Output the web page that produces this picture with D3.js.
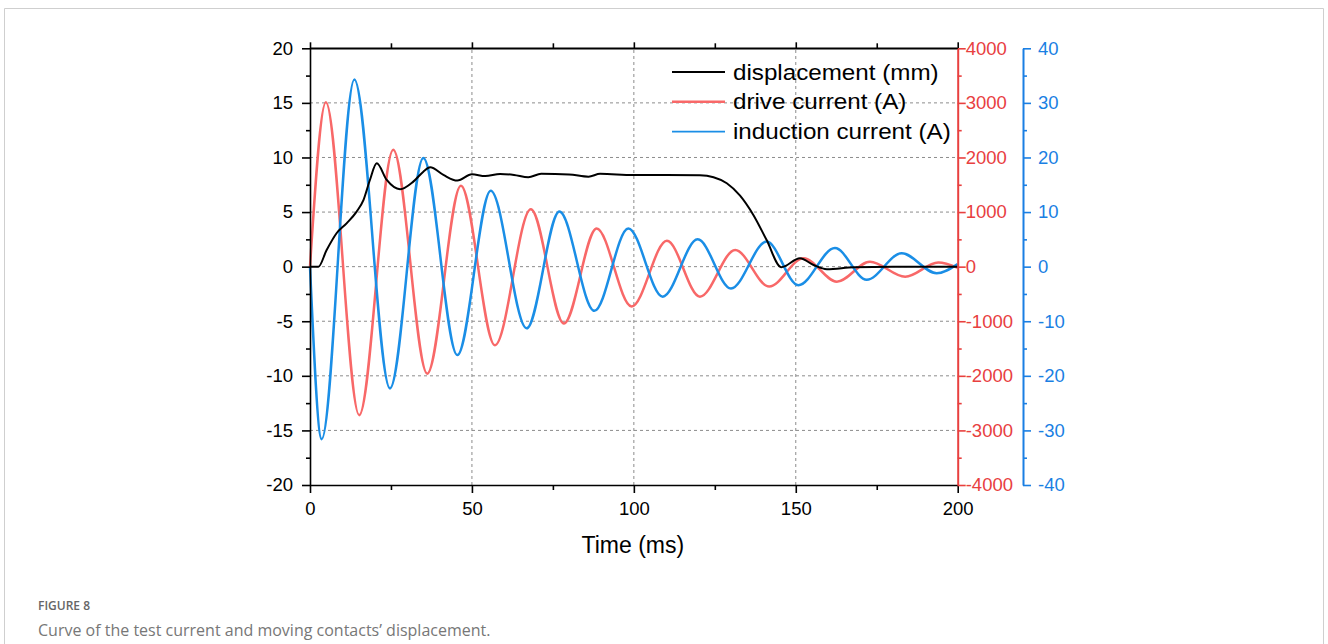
<!DOCTYPE html>
<html>
<head>
<meta charset="utf-8">
<script src="https://cdn.jsdelivr.net/npm/d3@7"></script>
<style>
  html, body { margin: 0; padding: 0; background: #fff; }
  svg { display: block; }
</style>
</head>
<body>
<svg id="chart" width="1328" height="644"></svg>
<script>
// ---------- data ----------
const timeTicks = [0, 50, 100, 150, 200];
const leftTicks = [-20, -15, -10, -5, 0, 5, 10, 15, 20];
const redTicks = [-4000, -3000, -2000, -1000, 0, 1000, 2000, 3000, 4000];
const blueTicks = [-40, -30, -20, -10, 0, 10, 20, 30, 40];

// displacement (mm)
const dispT = [0, 2.6, 5.1, 8.2, 11.3, 14.4, 16.5, 18.5, 20.6, 23.7, 27.8, 31.9, 35, 37.1, 41.2, 45.5, 50, 54.1, 58.7, 63, 67.4, 71.4, 80, 86, 89.6, 99.8, 110, 120.4, 124.6, 128.7, 132.8, 136.9, 141, 145.5, 151.3, 155.5, 159.6, 168, 180, 200];
const dispV = [0, 0, 1.5, 3.06, 3.97, 5.04, 6.1, 7.94, 9.47, 7.94, 7.09, 7.79, 8.7, 9.1, 8.4, 7.88, 8.46, 8.3, 8.49, 8.4, 8.19, 8.5, 8.45, 8.24, 8.5, 8.4, 8.4, 8.37, 8.19, 7.64, 6.5, 4.73, 2.44, -0.05, 0.77, 0.15, -0.24, -0.05, 0, 0];

// drive current (A)
const driveT = [0, 4.9, 15.2, 25.7, 36.2, 46.6, 57.1, 68.2, 78.4, 88.5, 99.3, 110.2, 120.4, 131.3, 141.8, 152.4, 162.7, 172.9, 183.8, 194, 200];
const driveV = [0, 3010, -2720, 2140, -1960, 1480, -1440, 1050, -1040, 700, -730, 475, -550, 305, -365, 155, -275, 90, -185, 75, -20];

// induction current (A)
const indT = [0, 3.6, 13.7, 24.7, 35.0, 45.5, 55.8, 66.9, 77.0, 87.8, 98.3, 108.9, 119.7, 130.0, 141.0, 150.8, 162.1, 171.9, 182.7, 193.5, 200];
const indV = [0, -31.6, 34.3, -22.3, 19.9, -16.2, 13.9, -11.3, 10.1, -8.1, 7.0, -5.5, 5.0, -4.0, 4.6, -3.4, 3.4, -2.4, 2.45, -1.2, 0.5];

const legendLabels = ["displacement (mm)", "drive current (A)", "induction current (A)"];

// ---------- layout ----------
const svg = d3.select("#chart");
const X0 = 310, X1 = 957.7, Y0 = 485, Y1 = 48.3;
const BLUE_X = 1023;
const black = "#000", redLine = "#f86868", redAxis = "#e8403f", blueLine = "#1a8ee6", blueAxis = "#1a7fe3";
const FONT = "'Liberation Sans', Arial, sans-serif";
const fmt = d => String(d);

const x = d3.scaleLinear().domain([0, 200]).range([X0, X1]);
const yL = d3.scaleLinear().domain([-20, 20]).range([Y0, Y1]);
const yR = d3.scaleLinear().domain([-4000, 4000]).range([Y0, Y1]);
const yB = d3.scaleLinear().domain([-40, 40]).range([Y0, Y1]);

// frame
svg.append("path").attr("d", `M4.5,644 V8.5 H1323.5 V644`).attr("fill", "none").attr("stroke", "#cfcfcf").attr("stroke-width", 1);

// gridlines
const grid = svg.append("g").attr("stroke", "#8c8c8c").attr("stroke-width", 1).attr("stroke-dasharray", "3,3");
[-15, -10, -5, 0, 5, 10, 15].forEach(v => {
  grid.append("line").attr("x1", X0).attr("x2", X1).attr("y1", yL(v)).attr("y2", yL(v));
});
[50, 100, 150].forEach(t => {
  grid.append("line").attr("x1", x(t)).attr("x2", x(t)).attr("y1", Y0).attr("y2", Y1);
});

// series
const lineGen = (xs, ys, yScale) => d3.line().curve(d3.curveMonotoneX)
  .x((d, i) => x(xs[i])).y((d, i) => yScale(ys[i]))(xs);

svg.append("path").attr("d", lineGen(driveT, driveV, yR)).attr("fill", "none").attr("stroke", redLine).attr("stroke-width", 2.5);
svg.append("path").attr("d", lineGen(indT, indV, yB)).attr("fill", "none").attr("stroke", blueLine).attr("stroke-width", 2.5);
svg.append("path").attr("d", lineGen(dispT, dispV, yL)).attr("fill", "none").attr("stroke", black).attr("stroke-width", 2);

// axes helpers
function styleAxis(g, color, fs) {
  g.selectAll(".domain").attr("stroke", color).attr("stroke-width", 1.6);
  g.selectAll(".tick line").attr("stroke", color).attr("stroke-width", 1.6);
  g.selectAll(".tick text").attr("fill", color).style("font-family", FONT).style("font-size", fs + "px");
}
const range = (a, b, s) => d3.range(a, b + s / 2, s);

// left axis
const gL = svg.append("g").attr("transform", `translate(${X0},0)`);
gL.append("g").call(d3.axisLeft(yL).tickValues(range(-17.5, 17.5, 5)).tickSize(4).tickFormat("")).call(g => { g.select(".domain").remove(); g.selectAll("line").attr("stroke", "#000").attr("stroke-width", 1.6); });
const gLm = gL.append("g").call(d3.axisLeft(yL).tickValues(leftTicks).tickSize(8).tickSizeOuter(0).tickPadding(9).tickFormat(fmt));
styleAxis(gLm, "#000", 18.5);

// bottom axis
const gB = svg.append("g").attr("transform", `translate(0,${Y0})`);
gB.append("g").call(d3.axisBottom(x).tickValues([25, 75, 125, 175]).tickSize(5).tickFormat("")).call(g => { g.select(".domain").remove(); g.selectAll("line").attr("stroke", "#000").attr("stroke-width", 1.6); });
const gBm = gB.append("g").call(d3.axisBottom(x).tickValues(timeTicks).tickSize(8).tickSizeOuter(0).tickPadding(9).tickFormat(fmt));
styleAxis(gBm, "#000", 18.5);

// top axis (no labels)
const gT = svg.append("g").attr("transform", `translate(0,${Y1})`);
gT.append("g").call(d3.axisTop(x).tickValues([25, 75, 125, 175]).tickSize(5).tickFormat("")).call(g => { g.select(".domain").remove(); g.selectAll("line").attr("stroke", "#000").attr("stroke-width", 1.6); });
const gTm = gT.append("g").call(d3.axisTop(x).tickValues(timeTicks).tickSize(6).tickSizeOuter(0).tickFormat(""));
styleAxis(gTm, "#000", 18);

// red right axis
const gR = svg.append("g").attr("transform", `translate(${X1},0)`);
gR.append("g").call(d3.axisRight(yR).tickValues(range(-3500, 3500, 1000)).tickSize(4).tickFormat("")).call(g => { g.select(".domain").remove(); g.selectAll("line").attr("stroke", redAxis).attr("stroke-width", 1.6); });
const gRm = gR.append("g").call(d3.axisRight(yR).tickValues(redTicks).tickSize(8).tickSizeOuter(0).tickPadding(0).tickFormat(fmt));
styleAxis(gRm, redAxis, 18.5);
gRm.select(".domain").attr("stroke-width", 2);

// blue right axis
const gBl = svg.append("g").attr("transform", `translate(${BLUE_X},0)`);
gBl.append("g").call(d3.axisRight(yB).tickValues(range(-35, 35, 10)).tickSize(4).tickFormat("")).call(g => { g.select(".domain").remove(); g.selectAll("line").attr("stroke", blueAxis).attr("stroke-width", 1.6); });
const gBlm = gBl.append("g").call(d3.axisRight(yB).tickValues(blueTicks).tickSize(8).tickSizeOuter(0).tickPadding(7).tickFormat(fmt));
styleAxis(gBlm, blueAxis, 18.5);
gBlm.select(".domain").attr("stroke-width", 2);

// top border line over plot
svg.append("line").attr("x1", X0).attr("x2", X1).attr("y1", Y1).attr("y2", Y1).attr("stroke", "#000").attr("stroke-width", 1.6);

// x-axis title
svg.append("text").attr("x", (X0 + X1) / 2 - 1).attr("y", 553).attr("text-anchor", "middle")
  .style("font-family", FONT).style("font-size", "23px").attr("fill", "#000").text("Time (ms)");

// legend
const legColors = [black, redLine, blueLine];
const legWidths = [2, 2.4, 1.8];
legendLabels.forEach((lab, i) => {
  const yy = 72 + i * 29.8;
  svg.append("line").attr("x1", 672).attr("x2", 725).attr("y1", yy).attr("y2", yy)
    .attr("stroke", legColors[i]).attr("stroke-width", legWidths[i]);
  svg.append("text").attr("transform", `translate(733,${yy + 7.5}) scale(1.1,1)`)
    .style("font-family", FONT).style("font-size", "22px")
    .attr("fill", "#000").text(lab);
});

// caption
svg.append("text").attr("x", 38).attr("y", 610).style("font-family", "'Open Sans', 'Noto Sans', sans-serif")
  .style("font-size", "12px").style("font-weight", 600).attr("fill", "#666").text("FIGURE 8");
svg.append("text").attr("x", 38).attr("y", 636).style("font-family", "'Open Sans', 'Noto Sans', sans-serif")
  .style("font-size", "16px").attr("fill", "#777").text("Curve of the test current and moving contacts\u2019 displacement.");
</script>
</body>
</html>
